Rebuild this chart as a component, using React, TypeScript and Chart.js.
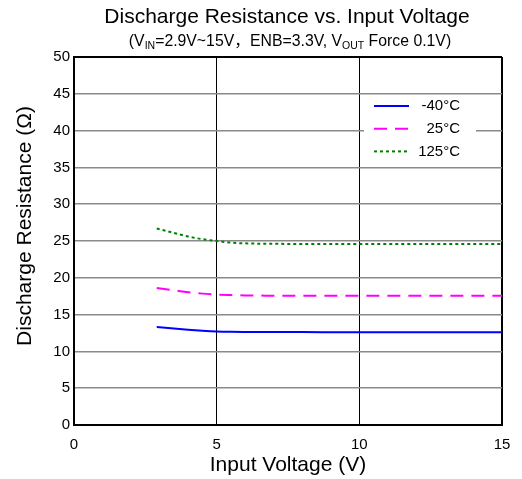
import React, { useEffect, useRef } from 'react';
import { Chart, registerables } from 'chart.js';

Chart.register(...registerables);

const FONT = "'Liberation Sans', Arial, 'Noto Sans CJK SC', sans-serif";

const voltage = [2.9, 3.5, 4, 4.5, 5, 5.5, 6, 7, 8, 10, 12, 15];
const resM40 = [13.3, 13.1, 12.95, 12.82, 12.72, 12.67, 12.65, 12.63, 12.62, 12.6, 12.6, 12.6];
const res25 = [18.6, 18.3, 18.05, 17.85, 17.72, 17.65, 17.6, 17.57, 17.55, 17.55, 17.55, 17.55];
const res125 = [26.7, 26.1, 25.6, 25.25, 25.0, 24.78, 24.68, 24.62, 24.6, 24.6, 24.6, 24.6];
const seriesLabels = ['-40°C', '25°C', '125°C'];
const seriesColors = ['#0000ff', '#ff00ff', '#008000'];
const seriesDashes = [[], [13, 8], [3, 3]];

const titleText = 'Discharge Resistance vs. Input Voltage';
const subtitleParts = [
  { t: '(V', sub: false },
  { t: 'IN', sub: true },
  { t: '=2.9V~15V，ENB=3.3V, V', sub: false },
  { t: 'OUT', sub: true },
  { t: ' Force 0.1V)', sub: false },
];
const xAxisTitle = 'Input Voltage (V)';
const yAxisTitle = 'Discharge Resistance (Ω)';

const titlePlugin = {
  id: 'customTitle',
  afterDraw(chart: any) {
    const ctx = chart.ctx;
    const ca = chart.chartArea;
    const cx = (ca.left + ca.right) / 2;
    ctx.save();
    ctx.fillStyle = '#000';
    ctx.textBaseline = 'alphabetic';
    ctx.textAlign = 'center';
    ctx.font = `21px ${FONT}`;
    ctx.fillText(titleText, cx - 1, ca.top - 34);
    const mainFont = `15.8px ${FONT}`;
    const subFont = `10.5px ${FONT}`;
    let total = 0;
    for (const p of subtitleParts) {
      ctx.font = p.sub ? subFont : mainFont;
      total += ctx.measureText(p.t).width;
    }
    let x = cx + 2 - total / 2;
    ctx.textAlign = 'left';
    for (const p of subtitleParts) {
      ctx.font = p.sub ? subFont : mainFont;
      ctx.fillText(p.t, x, p.sub ? ca.top - 8 : ca.top - 11.5);
      x += ctx.measureText(p.t).width;
    }
    // vertical axis title
    ctx.save();
    ctx.translate(ca.left - 49, ca.top + 169);
    ctx.rotate(-Math.PI / 2);
    ctx.textAlign = 'center';
    ctx.textBaseline = 'middle';
    ctx.font = `21px ${FONT}`;
    ctx.fillText(yAxisTitle, 0, 0);
    ctx.restore();
    ctx.restore();
  },
};

const legendPlugin = {
  id: 'customLegend',
  afterDraw(chart: any) {
    const ctx = chart.ctx;
    const ca = chart.chartArea;
    const boxLeft = ca.right - 138;
    const boxTop = ca.top + 39;
    ctx.save();
    ctx.fillStyle = '#ffffff';
    ctx.fillRect(boxLeft, boxTop, 112, 70);
    chart.data.datasets.forEach((ds: any, i: number) => {
      const y = boxTop + 10 + i * 22.7;
      ctx.strokeStyle = ds.borderColor;
      ctx.lineWidth = ds.borderWidth;
      ctx.setLineDash(ds.borderDash || []);
      ctx.beginPath();
      ctx.moveTo(boxLeft + 10, y);
      ctx.lineTo(boxLeft + 45, y);
      ctx.stroke();
      ctx.setLineDash([]);
      ctx.fillStyle = '#000';
      ctx.font = `15px ${FONT}`;
      ctx.textAlign = 'right';
      ctx.textBaseline = 'middle';
      ctx.fillText(ds.label, boxLeft + 96, y);
    });
    ctx.restore();
  },
};

export default function App() {
  const ref = useRef<HTMLCanvasElement | null>(null);

  useEffect(() => {
    if (!ref.current) return;
    const seriesValues = [resM40, res25, res125];
    const chart = new Chart(ref.current, {
      type: 'line',
      data: {
        datasets: seriesValues.map((vals, i) => ({
          label: seriesLabels[i],
          data: voltage.map((v, j) => ({ x: v, y: vals[j] })),
          borderColor: seriesColors[i],
          backgroundColor: seriesColors[i],
          borderWidth: 2,
          borderDash: seriesDashes[i],
          pointRadius: 0,
          cubicInterpolationMode: 'monotone',
          fill: false,
        })),
      },
      options: {
        responsive: false,
        animation: false,
        layout: { padding: { top: 57, right: 20, left: 0, bottom: 0 } },
        plugins: {
          legend: { display: false },
          title: { display: false },
          tooltip: { enabled: false },
        },
        scales: {
          x: {
            type: 'linear',
            min: 0,
            max: 15,
            afterFit: (s: any) => { s.height = 54; },
            ticks: {
              stepSize: 5,
              color: '#000',
              padding: 11,
              font: { family: FONT, size: 15 },
            },
            grid: {
              drawTicks: false,
              color: '#000',
              lineWidth: (c: any) => (c.tick && c.tick.value === 15 ? 2 : 1),
            },
            border: { color: '#000', width: 2 },
            title: {
              display: true,
              text: xAxisTitle,
              color: '#000',
              font: { family: FONT, size: 21 },
              padding: { top: 0, bottom: 1 },
            },
          },
          y: {
            type: 'linear',
            min: 0,
            max: 50,
            afterFit: (s: any) => { s.width = 74; },
            ticks: {
              stepSize: 5,
              color: '#000',
              padding: 4,
              font: { family: FONT, size: 15 },
            },
            grid: {
              drawTicks: false,
              color: (c: any) => (c.tick && c.tick.value === 50 ? '#000' : '#8a8a8a'),
              lineWidth: (c: any) => (c.tick && c.tick.value === 50 ? 2 : 1.6),
            },
            border: { color: '#000', width: 2 },
            title: { display: false },
          },
        },
      },
      plugins: [titlePlugin, legendPlugin],
    } as any);
    return () => chart.destroy();
  }, []);

  return (
    <div style={{ position: 'absolute', left: 0, top: 0, width: 522, height: 479, background: '#fff' }}>
      <canvas ref={ref} width={522} height={479} />
    </div>
  );
}
